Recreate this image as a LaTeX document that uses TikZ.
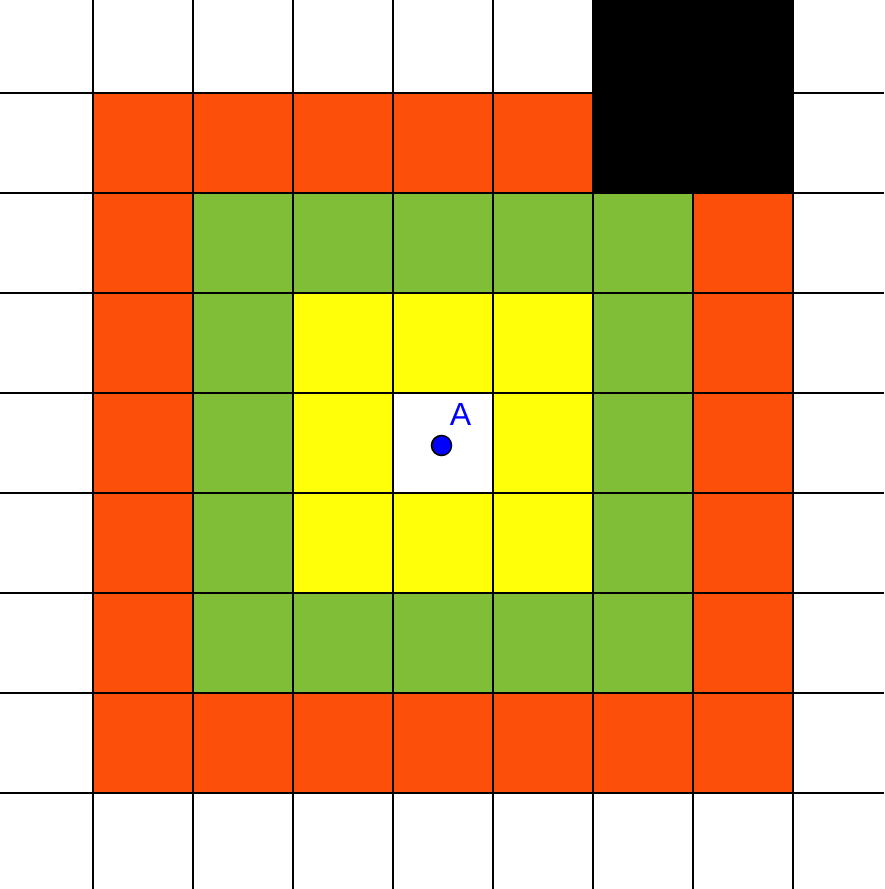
\documentclass[tikz,border=0pt]{standalone}
\usepackage{fontspec}
\setmainfont{Liberation Sans}
\definecolor{orng}{RGB}{252,79,10}
\definecolor{grn}{RGB}{128,190,55}
\definecolor{ylw}{RGB}{255,255,10}
\definecolor{ptblue}{RGB}{0,0,255}
\tikzset{
  gridline/.style={black, line width=2pt},
}
\begin{document}
\begin{tikzpicture}[x=1pt,y=-1pt]
\useasboundingbox (0,0) rectangle (884,889);
\fill[white] (0,0) rectangle (884,889);
% orange ring
\foreach \c in {0,...,6} {
  \fill[orng] (93+100*\c,693) rectangle ++(100,100);
}
\foreach \c in {0,...,4} {
  \fill[orng] (93+100*\c,93) rectangle ++(100,100);
}
\foreach \r in {1,...,5} {
  \fill[orng] (93,93+100*\r) rectangle ++(100,100);
  \fill[orng] (693,93+100*\r) rectangle ++(100,100);
}
% green ring
\fill[grn] (193,193) rectangle (693,693);
% yellow ring
\fill[ylw] (293,293) rectangle (593,593);
% centre
\fill[white] (393,393) rectangle (493,493);
% grid
\foreach \k in {0,...,7} {
  \draw[gridline] (93+100*\k,0) -- (93+100*\k,889);
  \draw[gridline] (0,93+100*\k) -- (884,93+100*\k);
}
% black block
\fill[black] (593,0) rectangle (793,193);
\draw[gridline] (593,0) -- (593,193);
\draw[gridline] (793,0) -- (793,193);
% point A
\node[circle, fill=ptblue, draw=black, line width=1.5pt, minimum size=20pt, inner sep=0pt] (A) at (441.5,445.5) {};
\node[text=ptblue, font=\fontsize{32}{32}\selectfont, inner sep=0pt] (Alabel) at (460.5,414.5) {A};
\end{tikzpicture}
\end{document}
